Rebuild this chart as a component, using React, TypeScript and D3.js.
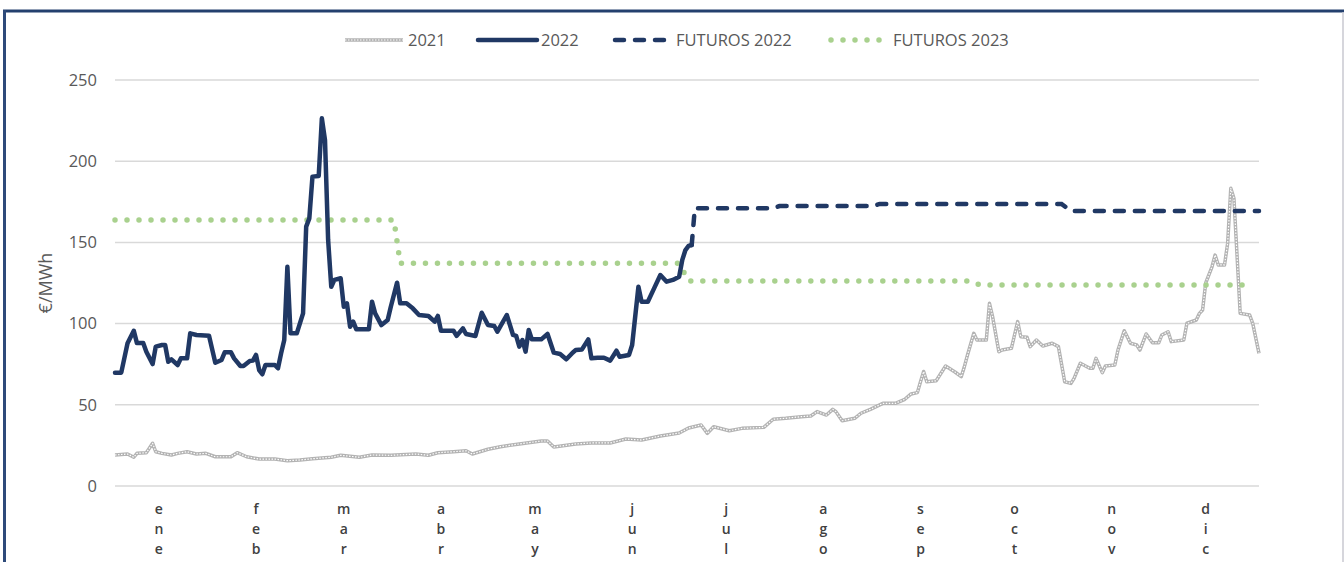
import React from "react";
import * as d3 from "d3";

// day of year (0-365) and €/MWh
const days2021 = [0, 4, 6, 7, 10, 12, 13, 15, 18, 20, 23, 26, 29, 32, 37, 39, 42, 46, 51, 55, 59, 63, 69, 72, 78, 82, 88, 96, 100, 103, 108, 112, 114, 119, 123, 129, 136, 138, 140, 147, 152, 158, 163, 168, 174, 180, 183, 187, 189, 191, 196, 200, 207, 210, 214, 219, 222, 224, 227, 229, 230, 232, 236, 238, 241, 245, 249, 252, 254, 256, 257, 258, 259, 262, 265, 268, 270, 271, 272, 274, 275, 278, 279, 280, 282, 283, 286, 288, 289, 291, 292, 294, 296, 299, 301, 303, 305, 306, 308, 311, 312, 313, 315, 316, 319, 320, 322, 324, 326, 327, 329, 331, 333, 334, 336, 337, 341, 342, 345, 346, 347, 348, 350, 351, 352, 354, 355, 356, 357, 359, 362, 363, 365];
const values2021 = [19.1, 19.7, 17.7, 20.1, 20.5, 26.3, 21.1, 20.1, 19.1, 20.1, 21.1, 19.7, 20.1, 18, 18, 20.5, 18, 16.6, 16.6, 15.6, 16, 16.8, 17.7, 18.9, 17.7, 19.1, 18.9, 19.7, 18.9, 20.5, 21.1, 21.7, 19.7, 22.6, 24.2, 25.9, 27.7, 27.7, 24, 25.9, 26.5, 26.5, 28.9, 28.3, 30.8, 32.6, 35.7, 37.6, 32.4, 36.5, 34, 35.5, 36.1, 41.1, 41.7, 42.7, 43.1, 45.8, 43.7, 47.2, 45.8, 40.2, 41.7, 44.8, 47.2, 50.9, 50.9, 53.4, 56.7, 57.5, 64.2, 70.5, 64.2, 64.8, 73.9, 70.2, 67.3, 73.5, 80.7, 94, 89.9, 89.9, 112.5, 104.3, 82.7, 83.7, 84.8, 101.2, 91.9, 91.6, 85.8, 89.9, 86.2, 87.9, 85.8, 64.2, 63.2, 66.3, 75.6, 72.5, 72.5, 78.6, 69.8, 73.9, 74.5, 83.7, 95.6, 87.9, 86.8, 83.7, 93.6, 88.2, 88.2, 93, 95, 88.9, 89.9, 100.2, 102.2, 106.3, 108.4, 125, 135, 142.2, 136.1, 136.1, 149.5, 183.3, 177.2, 106.3, 105.3, 100.2, 81.7];

const days2022 = [0, 2, 4, 6, 7, 9, 10, 12, 13, 15, 16, 17, 18, 20, 21, 23, 24, 26, 30, 32, 34, 35, 37, 38, 40, 41, 43, 44, 45, 46, 47, 48, 51, 52, 53, 54, 55, 56, 58, 60, 61, 62, 63, 65, 66, 67, 68, 69, 70, 72, 73, 74, 75, 76, 77, 81, 82, 83, 85, 87, 88, 90, 91, 93, 95, 97, 100, 102, 103, 104, 108, 109, 111, 112, 115, 117, 119, 121, 122, 125, 127, 128, 129, 130, 131, 132, 133, 136, 138, 140, 142, 144, 146, 147, 149, 151, 152, 154, 156, 158, 160, 161, 164, 165, 167, 168, 170, 172, 174, 176, 178, 180, 181, 182, 183, 184];
const values2022 = [69.8, 69.8, 87.9, 95.6, 88, 88, 82.7, 75.1, 85.8, 86.8, 86.8, 76.5, 78, 74.5, 78.6, 78.6, 94, 93, 92.5, 75.9, 77.6, 82.3, 82.3, 78.6, 73.9, 73.9, 77, 77.2, 80.7, 71.4, 68.8, 74.5, 74.5, 72.5, 81.7, 89.9, 135, 94, 94, 106.3, 159.7, 164.8, 190.5, 190.9, 226.4, 213, 151.5, 122.7, 126.9, 127.9, 110.4, 112.5, 98.1, 101.2, 96.5, 96.5, 113.5, 106.3, 99.1, 102.2, 110.4, 125.2, 112.5, 112.5, 109.4, 105.3, 104.7, 101.2, 104.7, 95.6, 95.6, 92.4, 97.1, 93.6, 92.4, 106.7, 99.1, 98.5, 95, 105.3, 93, 92.4, 85.8, 89.9, 82.7, 96.1, 90.3, 90.3, 93.6, 82.1, 81.3, 78, 82.1, 83.7, 84.1, 90.3, 78.6, 79, 79, 77.2, 83.3, 79.6, 80.7, 86.8, 122.7, 113.5, 113.5, 121.7, 129.9, 125.8, 126.9, 128.9, 139.2, 145.3, 147.8, 148.4];

const daysFut2022 = [184, 185, 210, 212, 242, 244, 302, 305, 365];
const valuesFut2022 = [148.4, 171, 171, 172.4, 172.4, 173.7, 173.7, 169.3, 169.3];

const daysFut2023 = [0, 89, 91, 180, 183, 273, 276, 362];
const valuesFut2023 = [163.8, 163.8, 137.1, 137.1, 126.2, 126.2, 123.8, 123.8];

const months = ["ene", "feb", "mar", "abr", "may", "jun", "jul", "ago", "sep", "oct", "nov", "dic"];
// first day of each month (day of year); labels sit two weeks in
const monthStarts = [0, 31, 59, 90, 120, 151, 181, 212, 243, 273, 304, 334];
const yTicks = [0, 50, 100, 150, 200, 250];
const legendLabels = ["2021", "2022", "FUTUROS 2022", "FUTUROS 2023"];

const NAVY = "#203864";
const GREEN = "#a9d18e";
const TEXT = "#595959";
const FONT = "'Open Sans', sans-serif";

export default function App() {
  const left = 115, right = 1259, top = 80, bottom = 486;

  const x = d3.scaleLinear().domain([0, 365]).range([left, right]);
  const y = d3.scaleLinear().domain([0, 250]).range([bottom, top]);

  const line = d3.line<number>().x((d) => x(d[0])).y((d) => y(d[1]));
  const pts = (ds: number[], vs: number[]) => ds.map((d, i) => [d, vs[i]]) as any;

  const p2021 = line(pts(days2021, values2021)) || "";
  const p2022 = line(pts(days2022, values2022)) || "";
  const pF22 = line(pts(daysFut2022, valuesFut2022)) || "";
  const pF23 = line(pts(daysFut2023, valuesFut2023)) || "";

  // legend layout: sample start, sample end, text start
  const legendPos = [
    [345, 403, 408],
    [478, 537, 541],
    [612, 667, 676],
    [828, 883, 893],
  ];
  const ly = 40;

  const sample = (i: number, x1: number, x2: number) => {
    const d = `M${x1},${ly}L${x2},${ly}`;
    if (i === 0)
      return (
        <g>
          <path d={d} stroke="#b3b3b3" strokeWidth={3.5} fill="none" />
          <path d={d} stroke="#ffffff" strokeWidth={1.2} strokeDasharray="1.5 1.5" fill="none" />
        </g>
      );
    if (i === 1) return <path d={d} stroke={NAVY} strokeWidth={4.5} strokeLinecap="round" />;
    if (i === 2)
      return <path d={`M${x1 + 3},${ly}L${x2},${ly}`} stroke={NAVY} strokeWidth={4.5} strokeLinecap="round" strokeDasharray="9 11" />;
    return <path d={`M${x1 + 3},${ly}L${x2},${ly}`} stroke={GREEN} strokeWidth={5.5} strokeLinecap="round" strokeDasharray="0 12" />;
  };

  return (
    <svg
      width={1344}
      height={562}
      style={{ position: "absolute", left: 0, top: 0, background: "#fff" }}
      fontFamily={FONT}
    >
      {/* frame */}
      <line x1={3} x2={1344} y1={11} y2={11} stroke="#24406e" strokeWidth={3} />
      <line x1={4.5} x2={4.5} y1={10} y2={562} stroke="#2e4a7a" strokeWidth={3} />
      <line x1={1343} x2={1343} y1={12} y2={562} stroke="#c8c8d0" strokeWidth={1.5} />

      {/* grid */}
      {yTicks.map((t) => (
        <g key={t}>
          <line x1={left} x2={right} y1={y(t)} y2={y(t)} stroke="#d9d9d9" strokeWidth={1.5} />
          <text x={97} y={y(t)} dy="0.35em" textAnchor="end" fontSize={16.5} fill={TEXT}>
            {t}
          </text>
        </g>
      ))}

      {/* axis title */}
      <text
        transform={`translate(52,${(top + bottom) / 2}) rotate(-90)`}
        textAnchor="middle"
        fontSize={18}
        fill={TEXT}
      >
        €/MWh
      </text>

      {/* month labels, stacked letters */}
      {months.map((m, i) => (
        <g key={m}>
          {m.split("").map((ch, j) => (
            <text
              key={j}
              x={x(monthStarts[i] + 14)}
              y={514 + j * 20}
              textAnchor="middle"
              fontSize={14}
              fontWeight={600}
              fill="#404040"
            >
              {ch}
            </text>
          ))}
        </g>
      ))}

      {/* series */}
      <path d={p2021} fill="none" stroke="#b3b3b3" strokeWidth={3.5} strokeLinejoin="round" />
      <path d={p2021} fill="none" stroke="#ffffff" strokeWidth={1.2} strokeDasharray="1.5 1.5" strokeLinejoin="round" />
      <path d={pF23} fill="none" stroke={GREEN} strokeWidth={5.5} strokeLinecap="round" strokeDasharray="0 12" />
      <path d={p2022} fill="none" stroke={NAVY} strokeWidth={4.5} strokeLinejoin="round" strokeLinecap="round" />
      <path d={pF22} fill="none" stroke={NAVY} strokeWidth={4.5} strokeLinecap="round" strokeDasharray="9 11" />

      {/* legend */}
      {legendLabels.map((lab, i) => (
        <g key={lab}>
          {sample(i, legendPos[i][0], legendPos[i][1])}
          <text x={legendPos[i][2]} y={ly} dy="0.35em" fontSize={16.5} fill={TEXT}>
            {lab}
          </text>
        </g>
      ))}
    </svg>
  );
}
